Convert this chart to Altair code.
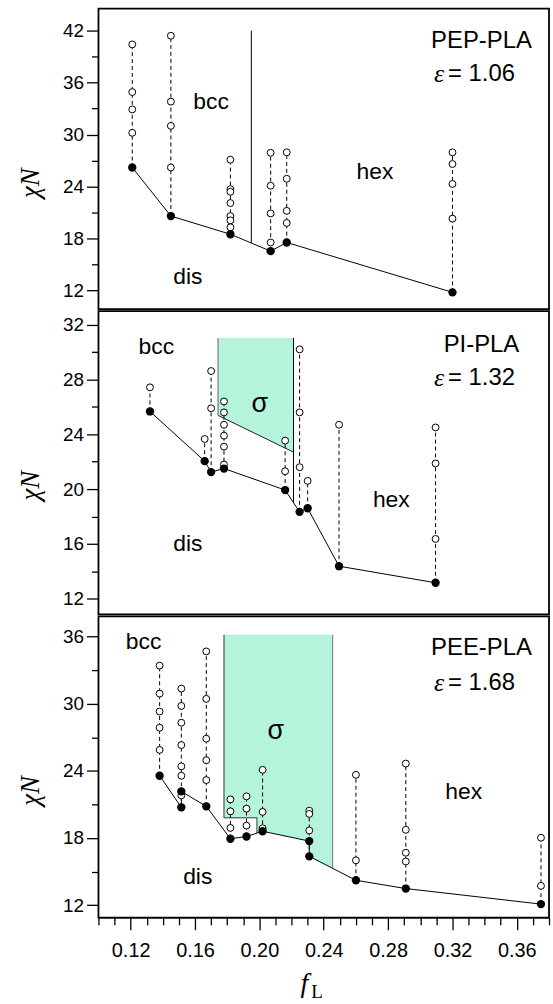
import altair as alt
import pandas as pd

SANS = "Liberation Sans"
SERIF = "Liberation Serif"
GREEN = "#b4f4da"

X_DOMAIN = [0.10, 0.38]
X_MAJOR = [0.12, 0.16, 0.20, 0.24, 0.28, 0.32, 0.36]
X_MINOR = [0.10, 0.11, 0.13, 0.14, 0.15, 0.17, 0.18, 0.19, 0.21, 0.22, 0.23,
           0.25, 0.26, 0.27, 0.29, 0.30, 0.31, 0.33, 0.34, 0.35, 0.37, 0.38]

# ---------------- Panel 1: PEP-PLA ----------------
P1_F = [0.121, 0.145, 0.182, 0.207, 0.217, 0.320]
P1_FILLED = [[26.2], [20.6], [18.5], [16.55], [17.55], [11.8]]
P1_OPEN = [[40.4, 34.9, 32.9, 30.2],
           [41.4, 33.8, 31.0, 26.2],
           [27.1, 23.7, 23.4, 22.1, 20.6, 20.1, 19.3],
           [27.9, 24.1, 20.9, 17.55],
           [27.95, 24.9, 21.2, 19.8],
           [27.95, 26.6, 24.3, 20.3]]
P1_YDOM = [9.87, 44.52]
P1_YMAJOR = [12, 18, 24, 30, 36, 42]
P1_YMINOR = [15, 21, 27, 33, 39]
P1_LABEL_T = ["bcc", "dis", "hex"]
P1_LABEL_F = [0.170, 0.1555, 0.2718]
P1_LABEL_V = [33.7, 13.6, 25.65]
P1_NAME = ["PEP-PLA", 40.76]
P1_EPS = ["= 1.06", 36.94]
P1_BOUND_F = [0.195]
P1_BOUND_LO = [17.5]
P1_BOUND_HI = [42.0]

# ---------------- Panel 2: PI-PLA ----------------
P2_F = [0.132, 0.166, 0.170, 0.178, 0.216, 0.225, 0.230, 0.2495, 0.3095]
P2_FILLED = [[25.67], [22.04], [21.24], [21.5], [19.93], [18.34], [18.6], [14.37], [13.16]]
P2_OPEN = [[27.43],
           [23.66],
           [28.62, 25.9],
           [26.4, 25.6, 24.7, 23.9, 23.1, 21.8],
           [23.54, 21.3],
           [30.2, 25.6, 21.6],
           [20.6],
           [24.7],
           [24.5, 21.87, 16.36]]
P2_YDOM = [10.85, 33.0]
P2_YMAJOR = [12, 16, 20, 24, 28, 32]
P2_YMINOR = [14, 18, 22, 26, 30]
P2_LABEL_T = ["bcc", "dis", "hex"]
P2_LABEL_F = [0.136, 0.1555, 0.282]
P2_LABEL_V = [30.4, 16.0, 19.2]
P2_NAME = ["PI-PLA", 30.51]
P2_SIGMA = [0.2003, 26.23]
P2_EPS = ["= 1.32", 28.09]
P2_AREA_F = [0.1743, 0.2212]
P2_AREA_TOP = [31.04, 31.04]
P2_AREA_BOT = [25.38, 22.7]
P2_RIGHT_EDGE = [0.2212, 19.0, 31.04]

# ---------------- Panel 3: PEE-PLA ----------------
P3_F = [0.138, 0.1515, 0.167, 0.182, 0.192, 0.202, 0.231, 0.260, 0.291, 0.375]
P3_FILLED = [[23.56], [20.74, 22.16], [20.83], [17.93], [18.13], [18.6],
             [17.72, 16.36], [14.22], [13.48], [12.09]]
P3_OPEN = [[33.4, 30.9, 29.3, 27.85, 25.87],
           [31.35, 29.8, 28.3, 26.3, 24.4, 23.56, 21.8],
           [34.67, 30.43, 26.87, 24.95, 23.17],
           [21.45, 20.38, 18.9],
           [21.72, 20.62, 19.1],
           [24.09, 20.33, 18.87],
           [20.44, 20.15, 18.67],
           [23.64, 16.0],
           [24.65, 18.73, 16.68, 15.9],
           [18.02, 13.72]]
P3_YDOM = [10.87, 37.8]
P3_YMAJOR = [12, 18, 24, 30, 36]
P3_YMINOR = [15, 21, 27, 33]
P3_LABEL_T = ["bcc", "dis", "hex"]
P3_LABEL_F = [0.128, 0.1617, 0.327]
P3_LABEL_V = [35.5, 14.5, 22.07]
P3_NAME = ["PEE-PLA", 34.96]
P3_SIGMA = [0.2102, 27.56]
P3_EPS = ["= 1.68", 31.85]
P3_AREA_F = [0.178, 0.1985, 0.19851, 0.2024, 0.231, 0.23101, 0.2455]
P3_AREA_TOP = [36.15, 36.15, 36.15, 36.15, 36.15, 36.15, 36.15]
P3_AREA_BOT = [19.8, 19.8, 18.42, 18.6, 17.72, 16.36, 15.29]
P3_EDGE_F = [0.178, 0.178, 0.1985, 0.1985]
P3_EDGE_V = [36.15, 19.8, 19.8, 18.42]
P3_RIGHT_EDGE = [0.2455, 15.29, 36.15]

NAME_F = 0.338
EPS_F = 0.3148
EPS_TEXT_F = 0.3172

WIDTH = 453


def xenc(field="f", axis=None):
    return alt.X(f"{field}:Q", scale=alt.Scale(domain=X_DOMAIN, nice=False, zero=False),
                 axis=axis)


def yenc(field, ydom, axis=None):
    return alt.Y(f"{field}:Q", scale=alt.Scale(domain=ydom, nice=False, zero=False),
                 axis=axis)


def text_layer(df, ydom, size, align="center", font=SANS, style="normal"):
    return alt.Chart(df).mark_text(font=font, fontStyle=style, fontSize=size,
                                   color="black", align=align,
                                   baseline="middle").encode(
        x=xenc(), y=yenc("v", ydom), text="t:N")


def panel(cols_f, filled, opened, ydom, ymajor, yminor, height,
          lab_t, lab_f, lab_v, name, eps, extra, bottom=False, sigma=None):
    fill_rows, open_rows, dash_rows = [], [], []
    seq = 0
    for f, fl, op in zip(cols_f, filled, opened):
        for v in fl:
            fill_rows.append({"f": f, "v": v, "seq": seq})
            seq += 1
        for v in op:
            open_rows.append({"f": f, "v": v})
        dash_rows.append({"f": f, "lo": min(fl), "hi": max(op)})
    dfill = pd.DataFrame(fill_rows)
    dopen = pd.DataFrame(open_rows)
    ddash = pd.DataFrame(dash_rows)

    common = dict(domain=False, grid=False, tickColor="black", tickWidth=1.3,
                  labelFont=SANS, labelColor="black")
    ymaj_axis = alt.Axis(values=ymajor, tickSize=12, orient="left", title="χN",
                         labelPadding=3, labelFontSize=19,
                         titleFont=SERIF, titleFontStyle="italic", titleFontSize=27,
                         titleFontWeight="normal", titleAngle=270, titleX=-68,
                         titleY=175, titleAlign="center", titleBaseline="middle",
                         titleColor="black", **common)
    ymin_axis = alt.Axis(values=yminor, tickSize=7, orient="left", labels=False,
                         title="", **common)
    xmaj_axis = alt.Axis(values=X_MAJOR, tickSize=12, orient="bottom", format=".2f",
                         title="", labelPadding=11, labelFontSize=20,
                         **common) if bottom else None
    xmin_axis = alt.Axis(values=X_MINOR, tickSize=7, orient="bottom", labels=False,
                         title="", **common) if bottom else None

    layers = list(extra)

    dashed = alt.Chart(ddash).mark_rule(color="black", strokeWidth=1,
                                        strokeDash=[4, 3]).encode(
        x=xenc(), y=yenc("lo", ydom), y2="hi:Q")
    line = alt.Chart(dfill).mark_line(color="black", strokeWidth=1).encode(
        x=xenc(), y=yenc("v", ydom), order="seq:Q")
    opens = alt.Chart(dopen).mark_point(shape="circle", size=48, filled=True,
                                        fill="white", stroke="black",
                                        strokeWidth=1, opacity=1).encode(
        x=xenc(axis=xmin_axis), y=yenc("v", ydom, ymin_axis))
    fills = alt.Chart(dfill).mark_circle(size=70, color="black", opacity=1).encode(
        x=xenc(axis=xmaj_axis), y=yenc("v", ydom, ymaj_axis))
    layers += [dashed, line, opens, fills]

    layers.append(text_layer(pd.DataFrame({"t": lab_t, "f": lab_f, "v": lab_v}),
                             ydom, 23))
    layers.append(text_layer(pd.DataFrame({"t": [name[0]], "f": [NAME_F], "v": [name[1]]}),
                             ydom, 24))
    if sigma is not None:
        layers.append(text_layer(pd.DataFrame({"t": ["σ"], "f": [sigma[0]], "v": [sigma[1]]}),
                                 ydom, 27))
    layers.append(text_layer(pd.DataFrame({"t": ["ε"], "f": [EPS_F], "v": [eps[1]]}),
                             ydom, 26, align="right", font=SERIF, style="italic"))
    layers.append(text_layer(pd.DataFrame({"t": [eps[0]], "f": [EPS_TEXT_F], "v": [eps[1]]}),
                             ydom, 24, align="left"))

    if bottom:
        dtitle = pd.DataFrame({"a": [1]})
        layers.append(alt.Chart(dtitle).mark_text(font=SERIF, fontStyle="italic",
                                                  fontSize=28, color="black",
                                                  align="center", baseline="alphabetic").encode(
            x=alt.value(207), y=alt.value(378), text=alt.value("f")))
        layers.append(alt.Chart(dtitle).mark_text(font=SERIF, fontSize=19, color="black",
                                                  align="left", baseline="alphabetic").encode(
            x=alt.value(214), y=alt.value(384), text=alt.value("L")))

    return alt.layer(*layers).resolve_axis(x="independent", y="independent").properties(
        width=WIDTH, height=height)


# extra layers (phase boundaries, sigma regions)
d1b = pd.DataFrame({"f": P1_BOUND_F, "lo": P1_BOUND_LO, "hi": P1_BOUND_HI})
p1_extra = [alt.Chart(d1b).mark_rule(color="black", strokeWidth=1).encode(
    x=xenc(), y=yenc("lo", P1_YDOM), y2="hi:Q")]

d2a = pd.DataFrame({"f": P2_AREA_F, "top": P2_AREA_TOP, "bot": P2_AREA_BOT})
d2r = pd.DataFrame({"f": [P2_RIGHT_EDGE[0]], "lo": [P2_RIGHT_EDGE[1]], "hi": [P2_RIGHT_EDGE[2]]})
d2l = pd.DataFrame({"f": [P2_AREA_F[0]], "lo": [P2_AREA_BOT[0]], "hi": [P2_AREA_TOP[0]]})
p2_extra = [
    alt.Chart(d2a).mark_area(color=GREEN, opacity=1).encode(
        x=xenc(), y=yenc("top", P2_YDOM), y2="bot:Q"),
    alt.Chart(d2a).mark_line(color="#222222", strokeWidth=1).encode(
        x=xenc(), y=yenc("bot", P2_YDOM)),
    alt.Chart(d2l).mark_rule(color="#777777", strokeWidth=1.2).encode(
        x=xenc(), y=yenc("lo", P2_YDOM), y2="hi:Q"),
    alt.Chart(d2r).mark_rule(color="black", strokeWidth=1).encode(
        x=xenc(), y=yenc("lo", P2_YDOM), y2="hi:Q"),
]

d3a = pd.DataFrame({"f": P3_AREA_F, "top": P3_AREA_TOP, "bot": P3_AREA_BOT})
d3e = pd.DataFrame({"f": P3_EDGE_F, "v": P3_EDGE_V, "seq": list(range(len(P3_EDGE_F)))})
d3r = pd.DataFrame({"f": [P3_RIGHT_EDGE[0]], "lo": [P3_RIGHT_EDGE[1]], "hi": [P3_RIGHT_EDGE[2]]})
p3_extra = [
    alt.Chart(d3a).mark_area(color=GREEN, opacity=1).encode(
        x=xenc(), y=yenc("top", P3_YDOM), y2="bot:Q"),
    alt.Chart(d3e).mark_line(color="#333333", strokeWidth=1).encode(
        x=xenc(), y=yenc("v", P3_YDOM), order="seq:Q"),
    alt.Chart(d3r).mark_rule(color="#888888", strokeWidth=1.2).encode(
        x=xenc(), y=yenc("lo", P3_YDOM), y2="hi:Q"),
]

p1 = panel(P1_F, P1_FILLED, P1_OPEN, P1_YDOM, P1_YMAJOR, P1_YMINOR, 302,
           P1_LABEL_T, P1_LABEL_F, P1_LABEL_V, P1_NAME, P1_EPS, p1_extra)
p2 = panel(P2_F, P2_FILLED, P2_OPEN, P2_YDOM, P2_YMAJOR, P2_YMINOR, 305,
           P2_LABEL_T, P2_LABEL_F, P2_LABEL_V, P2_NAME, P2_EPS, p2_extra, sigma=P2_SIGMA)
p3 = panel(P3_F, P3_FILLED, P3_OPEN, P3_YDOM, P3_YMAJOR, P3_YMINOR, 303,
           P3_LABEL_T, P3_LABEL_F, P3_LABEL_V, P3_NAME, P3_EPS, p3_extra, bottom=True,
           sigma=P3_SIGMA)

chart = alt.vconcat(p1, p2, p3, spacing=0).properties(
    padding={"left": 16, "top": 5, "right": 2, "bottom": 2},
    background="white"
).configure_view(stroke="black", strokeWidth=1.8)

chart.save("out.html", embed_options={"renderer": "svg", "actions": False})
